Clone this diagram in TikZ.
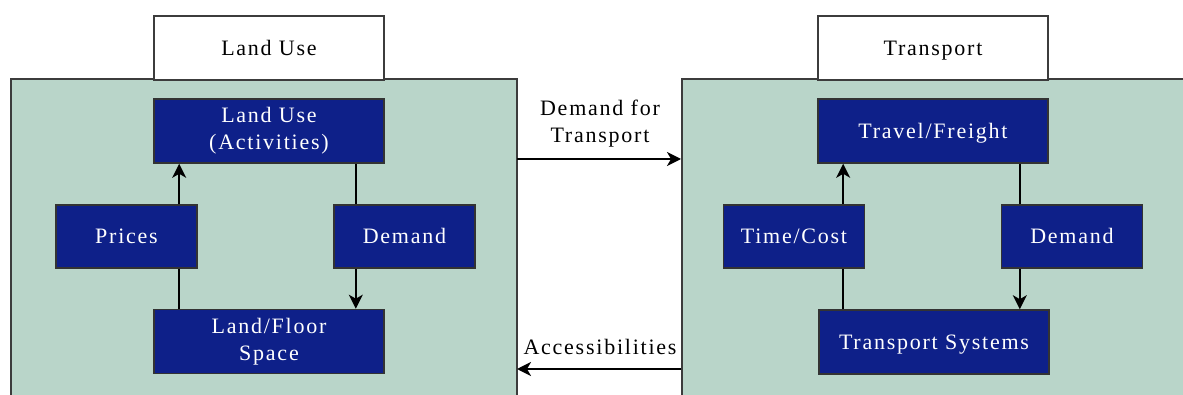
\documentclass[tikz,border=0pt]{standalone}
\usepackage{fontspec}
\setmainfont{Liberation Serif}[LetterSpace=8]
\usetikzlibrary{arrows.meta}
\definecolor{panelfill}{RGB}{185,213,201}
\definecolor{boxblue}{RGB}{14,32,137}
\definecolor{edgegray}{RGB}{60,60,60}
\tikzset{
  oneline/.style={text height=16pt, text depth=1pt},
  panel/.style={draw=edgegray, line width=1.6pt, fill=panelfill},
  titlebox/.style={draw=edgegray, line width=1.6pt, fill=white, minimum width=230, minimum height=64, inner sep=0pt, oneline, font=\fontsize{22}{27}\selectfont},
  bluebox/.style={draw=black!80, line width=1.6pt, fill=boxblue, text=white, inner sep=0pt, align=center, font=\fontsize{22}{27}\selectfont},
  widebox/.style={bluebox, minimum width=230, minimum height=64},
  sidebox/.style={bluebox, oneline, minimum width=141, minimum height=63},
  link/.style={line width=2pt, black},
  flow/.style={link, -{Stealth[length=14pt, width=14pt, inset=4pt]}},
  midlabel/.style={inner sep=0pt, align=center, font=\fontsize{22}{27}\selectfont}
}
\begin{document}
\begin{tikzpicture}[x=1pt, y=-1pt]
\useasboundingbox (0,0) rectangle (1183,395);
\clip (0,0) rectangle (1183,395);
\fill[white] (0,0) rectangle (1183,395);

% the two panels
\draw[panel] (11,79) rectangle (517,410);
\draw[panel] (682,79) rectangle (1195,410);

% land use side
\node[titlebox] (lutitle) at (269,48) {Land Use};
\node[widebox] (lu) at (269,131) {Land Use\\(Activities)};
\node[sidebox] (prices) at (126.5,236.5) {Prices};
\node[sidebox] (ludem) at (404.5,236.5) {Demand};
\node[widebox] (floor) at (269,341.5) {Land/Floor\\Space};

\draw[link] (floor.south west |- floor.north) ++(26,0) coordinate (a1) -- (a1 |- prices.south);
\draw[flow] (a1 |- prices.north) -- (a1 |- lu.south);
\draw[link] (lu.south east) ++(-29,0) coordinate (a2) -- (a2 |- ludem.north);
\draw[flow] (a2 |- ludem.south) -- (a2 |- floor.north);

% transport side
\node[titlebox] (trtitle) at (933,48) {Transport};
\node[widebox, oneline] (tf) at (933,131) {Travel/Freight};
\node[sidebox] (tc) at (794,236.5) {Time/Cost};
\node[sidebox] (trdem) at (1072,236.5) {Demand};
\node[widebox, oneline] (ts) at (934,342) {Transport Systems};

\draw[link] (ts.south west |- ts.north) ++(25,0) coordinate (b1) -- (b1 |- tc.south);
\draw[flow] (b1 |- tc.north) -- (b1 |- tf.south);
\draw[link] (tf.south east) ++(-29,0) coordinate (b2) -- (b2 |- trdem.north);
\draw[flow] (b2 |- trdem.south) -- (b2 |- ts.north);

% exchanges between the two subsystems
\coordinate (lr1) at (517,159);
\coordinate (rr1) at (681,159);
\coordinate (lr2) at (517,369);
\coordinate (rr2) at (681,369);
\draw[flow] (lr1) -- (rr1);
\draw[flow] (rr2) -- (lr2);
\node[midlabel] (dft) at (600,124) {Demand for\\Transport};
\node[midlabel] (acc) at (600,347) {Accessibilities};
\end{tikzpicture}
\end{document}
